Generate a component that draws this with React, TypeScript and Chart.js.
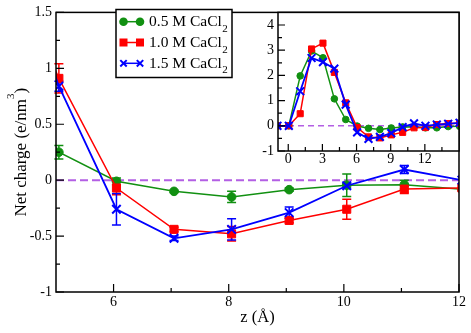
import React, { useEffect, useRef } from 'react';
import { Chart, registerables } from 'chart.js';
Chart.register(...registerables);

// ---------------- data ----------------
const zPositions = [-0.95, 0.05, 1.05, 2.05, 3.05, 4.05, 5.05, 6.05, 7.05, 8.05, 9.05, 10.05, 11.05, 12.05, 13.05, 14.05, 15.05];
const charge05M = [0, 0, 1.98, 2.97, 2.7, 1.07, 0.25, -0.01, -0.1, -0.15, -0.085, -0.045, -0.04, -0.08, -0.08, -0.03, -0.02];
const charge10M = [0, 0, 0.48, 3.05, 3.28, 2.12, 0.91, -0.07, -0.44, -0.48, -0.36, -0.26, -0.08, -0.07, 0.05, 0.09, 0.1];
const charge15M = [0, 0, 1.37, 2.69, 2.53, 2.27, 0.84, -0.26, -0.52, -0.44, -0.29, -0.05, 0.095, 0.0, 0.05, 0.08, 0.12];
const error05M = [0, 0, 0, 0, 0, 0, 0.06, 0.03, 0.01, 0.05, 0.015, 0.1, 0.04, 0, 0, 0, 0];
const error10M = [0, 0, 0, 0, 0, 0, 0.13, 0.06, 0.02, 0.065, 0.02, 0.09, 0.04, 0, 0, 0, 0];
const error15M = [0, 0, 0, 0, 0, 0, 0.045, 0.14, 0.02, 0.095, 0.05, 0.02, 0.035, 0, 0, 0, 0];
const seriesNames = ['0.5 M CaCl', '1.0 M CaCl', '1.5 M CaCl'];
const seriesSubscript = '2';

const xTitle = 'z (Å)';
const yTitleMain = 'Net charge (e/nm';
const yTitleSup = '3';
const yTitleEnd = ')';

const mainXMajor = [6, 8, 10, 12];
const mainXMinor = [7, 9, 11];
const mainYMajor = [-1, -0.5, 0, 0.5, 1, 1.5];
const mainYMinor = [-0.75, -0.25, 0.25, 0.75, 1.25];
const insetXMajor = [0, 3, 6, 9, 12];
const insetXMinor = [1.5, 4.5, 7.5, 10.5, 13.5];
const insetYMajor = [-1, 0, 1, 2, 3, 4];
const insetYMinor = [-0.5, 0.5, 1.5, 2.5, 3.5];

// ---------------- styles ----------------
const COLORS = ['#119011', '#ff0000', '#0000ff'];
const ZERO_COLOR = '#b35fe4';
const FONT = "'Liberation Serif', 'Times New Roman', serif";

Chart.defaults.font.family = FONT;
Chart.defaults.color = '#000';

const values = [charge05M, charge10M, charge15M];
const errors = [error05M, error10M, error15M];

function makeDecor(spec: any) {
  return {
    id: 'decor_' + spec.name,
    beforeDraw(chart: any) {
      if (!spec.fillWhite) return;
      const { ctx, chartArea: a } = chart;
      ctx.save();
      ctx.fillStyle = '#fff';
      ctx.fillRect(a.left, a.top, a.right - a.left, a.bottom - a.top);
      ctx.restore();
    },
    beforeDatasetsDraw(chart: any) {
      const { ctx, chartArea: a, scales } = chart;
      const y0 = scales.y.getPixelForValue(0);
      ctx.save();
      ctx.beginPath();
      ctx.rect(a.left, a.top, a.right - a.left, a.bottom - a.top);
      ctx.clip();
      ctx.strokeStyle = ZERO_COLOR;
      ctx.lineWidth = spec.zeroWidth;
      ctx.setLineDash(spec.dash);
      ctx.beginPath();
      ctx.moveTo(a.left, y0);
      ctx.lineTo(a.right, y0);
      ctx.stroke();
      ctx.restore();
      if (spec.errorBars) {
        ctx.save();
        ctx.lineWidth = 1.5;
        const xs = scales.x, ys = scales.y;
        for (let s = 0; s < 3; s++) {
          ctx.strokeStyle = COLORS[s];
          zPositions.forEach((z, i) => {
            const e = errors[s][i];
            if (!e || z < xs.min || z > xs.max) return;
            const px = xs.getPixelForValue(z);
            const yt = ys.getPixelForValue(values[s][i] + e);
            const yb = ys.getPixelForValue(values[s][i] - e);
            ctx.beginPath();
            ctx.moveTo(px, yt); ctx.lineTo(px, yb);
            ctx.moveTo(px - 4.5, yt); ctx.lineTo(px + 4.5, yt);
            ctx.moveTo(px - 4.5, yb); ctx.lineTo(px + 4.5, yb);
            ctx.stroke();
          });
        }
        ctx.restore();
      }
    },
    afterDraw(chart: any) {
      const { ctx, chartArea: a, scales } = chart;
      ctx.save();
      ctx.strokeStyle = '#000';
      ctx.lineWidth = 1.5;
      ctx.strokeRect(a.left, a.top, a.right - a.left, a.bottom - a.top);
      ctx.lineWidth = 1.2;
      ctx.beginPath();
      spec.xMajor.forEach((v: number) => { const p = scales.x.getPixelForValue(v); ctx.moveTo(p, a.bottom); ctx.lineTo(p, a.bottom - spec.majorLen); });
      spec.xMinor.forEach((v: number) => { const p = scales.x.getPixelForValue(v); ctx.moveTo(p, a.bottom); ctx.lineTo(p, a.bottom - spec.minorLen); });
      spec.yMajor.forEach((v: number) => { const p = scales.y.getPixelForValue(v); ctx.moveTo(a.left, p); ctx.lineTo(a.left + spec.majorLen, p); });
      spec.yMinor.forEach((v: number) => { const p = scales.y.getPixelForValue(v); ctx.moveTo(a.left, p); ctx.lineTo(a.left + spec.minorLen, p); });
      ctx.stroke();
      ctx.restore();

      if (spec.yTitle) {
        ctx.save();
        ctx.fillStyle = '#000';
        ctx.translate(25.5, (a.top + a.bottom) / 2);
        ctx.rotate(-Math.PI / 2);
        ctx.textBaseline = 'alphabetic';
        ctx.textAlign = 'left';
        const big = '17px ' + FONT, small = '11px ' + FONT;
        ctx.font = big; const w1 = ctx.measureText(yTitleMain).width; const w3 = ctx.measureText(yTitleEnd).width;
        ctx.font = small; const w2 = ctx.measureText(yTitleSup).width;
        let x = -(w1 + w2 + w3) / 2;
        ctx.font = big; ctx.fillText(yTitleMain, x, 0); x += w1;
        ctx.font = small; ctx.fillText(yTitleSup, x, -12); x += w2;
        ctx.font = big; ctx.fillText(yTitleEnd, x, 0);
        ctx.restore();
      }

      if (spec.legend) {
        ctx.save();
        ctx.fillStyle = '#fff';
        ctx.fillRect(116, 9.5, 116, 68);
        ctx.strokeStyle = '#000';
        ctx.lineWidth = 1.5;
        ctx.strokeRect(116, 9.5, 116, 68);
        const rows = [21.7, 42.5, 63.3];
        for (let s = 0; s < 3; s++) {
          const y = rows[s];
          const x1 = 123.5, x2 = 140;
          ctx.strokeStyle = COLORS[s];
          ctx.fillStyle = COLORS[s];
          ctx.lineWidth = 1.5;
          ctx.beginPath(); ctx.moveTo(x1, y); ctx.lineTo(x2, y); ctx.stroke();
          [x1, x2].forEach((mx) => {
            if (s === 0) { ctx.beginPath(); ctx.arc(mx, y, 4.3, 0, Math.PI * 2); ctx.fill(); }
            else if (s === 1) { ctx.fillRect(mx - 4, y - 4, 8, 8); }
            else {
              ctx.lineWidth = 2;
              ctx.beginPath();
              ctx.moveTo(mx - 3.2, y - 3.2); ctx.lineTo(mx + 3.2, y + 3.2);
              ctx.moveTo(mx - 3.2, y + 3.2); ctx.lineTo(mx + 3.2, y - 3.2);
              ctx.stroke();
            }
          });
          ctx.fillStyle = '#000';
          ctx.textBaseline = 'alphabetic';
          ctx.textAlign = 'left';
          ctx.font = '15.5px ' + FONT;
          ctx.fillText(seriesNames[s], 149, y + 4.5);
          const w = ctx.measureText(seriesNames[s]).width;
          ctx.font = '11px ' + FONT;
          ctx.fillText(seriesSubscript, 149 + w + 0.5, y + 10);
        }
        ctx.restore();
      }
    },
  };
}

const pointStyles = ['circle', 'rect', 'crossRot'];

function makeDatasets(radii: number[], lineWidth: number) {
  return values.map((vals, s) => ({
    label: seriesNames[s] + seriesSubscript,
    data: zPositions.map((z, i) => ({ x: z, y: vals[i] })),
    borderColor: COLORS[s],
    backgroundColor: COLORS[s],
    pointBackgroundColor: COLORS[s],
    pointBorderColor: COLORS[s],
    pointStyle: pointStyles[s],
    pointRadius: radii[s],
    pointBorderWidth: s === 2 ? 2 : 1,
    borderWidth: s === 2 ? lineWidth + 0.3 : lineWidth,
    tension: 0,
    order: 3 - s,
  }));
}

function explicitTicks(list: number[]) {
  return (scale: any) => { scale.ticks = list.map((v) => ({ value: v })); };
}

export default function App() {
  const mainRef = useRef<HTMLCanvasElement>(null);
  const insetRef = useRef<HTMLCanvasElement>(null);

  useEffect(() => {
    const main = new Chart(mainRef.current as HTMLCanvasElement, {
      type: 'line',
      data: { datasets: makeDatasets([4.3, 5.7, 6], 1.5) as any },
      options: {
        animation: false,
        responsive: false,
        devicePixelRatio: 1,
        events: [],
        layout: { padding: { top: 9, right: 12, left: 0, bottom: 0 } },
        plugins: { legend: { display: false }, tooltip: { enabled: false } },
        scales: {
          x: {
            type: 'linear', min: 5, max: 12,
            grid: { display: false, drawTicks: false },
            border: { display: false },
            afterBuildTicks: explicitTicks(mainXMajor),
            afterFit: (s: any) => { s.height = 41; },
            ticks: { font: { size: 14, family: FONT }, color: '#000', padding: 2, callback: (v: any) => String(v) },
            title: { display: true, text: xTitle, font: { size: 16.5, family: FONT }, color: '#000', padding: { top: 0, bottom: 5 } },
          },
          y: {
            type: 'linear', min: -1, max: 1.5,
            grid: { display: false, drawTicks: false },
            border: { display: false },
            afterBuildTicks: explicitTicks(mainYMajor),
            afterFit: (s: any) => { s.width = 56; },
            ticks: { font: { size: 14, family: FONT }, color: '#000', padding: 4, callback: (v: any) => String(v) },
          },
        },
      },
      plugins: [makeDecor({ name: 'main', zeroWidth: 2, dash: [8, 4], errorBars: true, xMajor: mainXMajor, xMinor: mainXMinor, yMajor: mainYMajor, yMinor: mainYMinor, majorLen: 8, minorLen: 4, yTitle: true, legend: true })],
    } as any);

    const inset = new Chart(insetRef.current as HTMLCanvasElement, {
      type: 'line',
      data: { datasets: makeDatasets([3.3, 4.3, 5.5], 1.5) as any },
      options: {
        animation: false,
        responsive: false,
        devicePixelRatio: 1,
        events: [],
        layout: { padding: { top: 9, right: 12, left: 0, bottom: 0 } },
        plugins: { legend: { display: false }, tooltip: { enabled: false } },
        scales: {
          x: {
            type: 'linear', min: -0.9, max: 15,
            grid: { display: false, drawTicks: false },
            border: { display: false },
            afterBuildTicks: explicitTicks(insetXMajor),
            afterFit: (s: any) => { s.height = 24; },
            ticks: { font: { size: 14, family: FONT }, color: '#000', padding: 0, callback: (v: any) => String(v) },
          },
          y: {
            type: 'linear', min: -1, max: 4.5,
            grid: { display: false, drawTicks: false },
            border: { display: false },
            afterBuildTicks: explicitTicks(insetYMajor),
            afterFit: (s: any) => { s.width = 30; },
            ticks: { font: { size: 14, family: FONT }, color: '#000', padding: 4, callback: (v: any) => String(v) },
          },
        },
      },
      plugins: [makeDecor({ name: 'inset', fillWhite: true, zeroWidth: 1.5, dash: [6, 4], errorBars: false, xMajor: insetXMajor, xMinor: insetXMinor, yMajor: insetYMajor, yMinor: insetYMinor, majorLen: 7, minorLen: 4 })],
    } as any);

    return () => { main.destroy(); inset.destroy(); };
  }, []);

  return (
    <div style={{ position: 'fixed', left: 0, top: 0, width: 471, height: 333, background: '#fff' }}>
      <canvas ref={mainRef} width={471} height={333} style={{ position: 'absolute', left: 0, top: 0 }} />
      <canvas ref={insetRef} width={223} height={175} style={{ position: 'absolute', left: 248, top: 0 }} />
    </div>
  );
}
